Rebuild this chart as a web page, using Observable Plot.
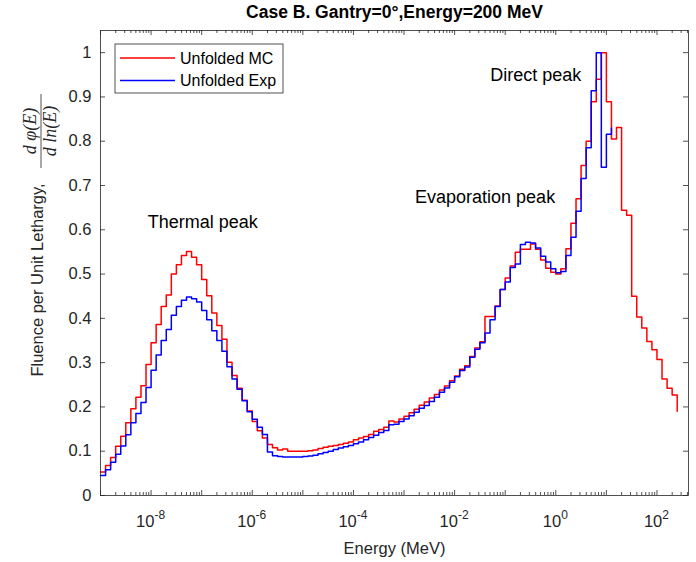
<!DOCTYPE html>
<html><head><meta charset="utf-8">
<script src="https://cdn.jsdelivr.net/npm/d3@7"></script>
<script src="https://cdn.jsdelivr.net/npm/@observablehq/plot@0.6"></script>
<style>body{margin:0;background:#fff;} svg{display:block;}</style>
</head><body><div id="chart"></div>
<script>
// ---- data ----
const binStartLog = -9;     // log10(E/MeV) of first bin lower edge
const binWidthLog = 0.1;    // bins of 0.1 decade
const seriesNames = ["Unfolded MC", "Unfolded Exp"];
const seriesColors = ["#ff0000", "#0000ff"];
const mcValues = [
  0.053,0.068,0.086,0.111,0.134,0.164,0.196,0.222,0.248,0.296,
  0.345,0.386,0.427,0.453,0.500,0.521,0.542,0.551,0.538,0.521,
  0.488,0.451,0.412,0.384,0.353,0.301,0.271,0.242,0.215,0.191,
  0.167,0.146,0.130,0.115,0.108,0.103,0.105,0.100,0.100,0.100,
  0.100,0.101,0.103,0.106,0.109,0.111,0.113,0.115,0.118,0.121,
  0.126,0.130,0.133,0.138,0.145,0.149,0.154,0.168,0.166,0.173,
  0.179,0.187,0.195,0.204,0.211,0.220,0.228,0.238,0.247,0.259,
  0.270,0.285,0.293,0.314,0.333,0.347,0.404,0.404,0.428,0.465,
  0.491,0.518,0.549,0.556,0.556,0.568,0.556,0.532,0.513,0.504,
  0.500,0.512,0.557,0.615,0.670,0.745,0.800,0.889,0.940,1.000,
  0.889,0.805,0.831,0.644,0.633,0.450,0.403,0.378,0.348,0.329,
  0.307,0.263,0.242,0.227
];
const mcLastValue = 0.19;
const expValues = [
  0.045,0.058,0.075,0.093,0.112,0.137,0.164,0.185,0.210,0.244,
  0.283,0.317,0.350,0.375,0.407,0.427,0.441,0.448,0.444,0.437,
  0.418,0.397,0.372,0.350,0.326,0.291,0.263,0.240,0.214,0.189,
  0.172,0.154,0.138,0.098,0.090,0.088,0.087,0.087,0.087,0.087,
  0.088,0.089,0.091,0.094,0.097,0.100,0.104,0.107,0.110,0.113,
  0.117,0.121,0.126,0.131,0.136,0.142,0.147,0.160,0.161,0.167,
  0.173,0.180,0.188,0.197,0.203,0.212,0.222,0.233,0.243,0.256,
  0.268,0.282,0.290,0.312,0.330,0.345,0.367,0.397,0.427,0.465,
  0.482,0.515,0.523,0.567,0.572,0.570,0.559,0.540,0.527,0.512,
  0.503,0.506,0.542,0.583,0.642,0.716,0.785,0.914,1.000,0.741,
  0.816
];
const expLastValue = 0.83;
const yTicks = [0,0.1,0.2,0.3,0.4,0.5,0.6,0.7,0.8,0.9,1];
const xMajorDecades = [-9,-8,-7,-6,-5,-4,-3,-2,-1,0,1,2];
const xLabelDecades = [-8,-6,-4,-2,0,2];
const minorMultipliers = [2,3,4,5,6,7,8,9];
const annotations = [
  {label: "Thermal peak", E: 1.05e-7, v: 0.616},
  {label: "Evaporation peak", E: 0.040, v: 0.673},
  {label: "Direct peak", E: 0.40, v: 0.948}
];
const xDomain = [1e-9, 420];
const yDomain = [0, 1.05];

// ---- build tables ----
function stairs(values, last, name) {
  const pts = values.map((v, i) => ({E: Math.pow(10, binStartLog + i * binWidthLog), v, name}));
  pts.push({E: Math.pow(10, binStartLog + values.length * binWidthLog), v: last, name});
  return pts;
}
const mcData = stairs(mcValues, mcLastValue, seriesNames[0]);
const expData = stairs(expValues, expLastValue, seriesNames[1]);
const majorX = xMajorDecades.map(d => Math.pow(10, d));
const minorX = [];
xMajorDecades.forEach(d => minorMultipliers.forEach(m => {
  const v = m * Math.pow(10, d);
  if (v <= xDomain[1]) minorX.push(v);
}));

const W = 696, H = 562, mL = 100, mR = 8, mT = 30, mB = 67;
const innerW = W - mL - mR, innerH = H - mT - mB;
const axisColor = "#262626";
const font = "'Liberation Sans', Arial, Helvetica, sans-serif";

const plot = Plot.plot({
  width: W, height: H,
  marginLeft: mL, marginRight: mR, marginTop: mT, marginBottom: mB,
  x: {type: "log", domain: xDomain, axis: null},
  y: {domain: yDomain, axis: null},
  style: {fontFamily: font, background: "#fff", overflow: "visible"},
  marks: [
    Plot.line(mcData, {x: "E", y: "v", curve: "step-after", stroke: seriesColors[0], strokeWidth: 1.5}),
    Plot.line(expData, {x: "E", y: "v", curve: "step-after", stroke: seriesColors[1], strokeWidth: 1.5}),
    Plot.tickX(majorX, {x: d => d, insetTop: innerH - 5, stroke: axisColor, strokeWidth: 0.8}),
    Plot.tickX(majorX, {x: d => d, insetBottom: innerH - 5, stroke: axisColor, strokeWidth: 0.8}),
    Plot.tickX(minorX, {x: d => d, insetTop: innerH - 3, stroke: axisColor, strokeWidth: 0.8}),
    Plot.tickX(minorX, {x: d => d, insetBottom: innerH - 3, stroke: axisColor, strokeWidth: 0.8}),
    Plot.tickY(yTicks, {y: d => d, insetRight: innerW - 5, stroke: axisColor, strokeWidth: 0.8}),
    Plot.tickY(yTicks, {y: d => d, insetLeft: innerW - 5, stroke: axisColor, strokeWidth: 0.8}),
    Plot.frame({stroke: axisColor, strokeWidth: 0.8}),
    Plot.text(yTicks, {y: d => d, frameAnchor: "left", dx: -9, textAnchor: "end",
      text: d => String(+d.toFixed(1)), fontSize: 16.5, fill: axisColor}),
    Plot.text(annotations, {x: "E", y: "v", text: "label", fontSize: 18, fill: "#000"}),
    Plot.text(["Energy (MeV)"], {frameAnchor: "bottom", dy: 53, lineAnchor: "middle", text: d => d, fontSize: 16.5, fill: axisColor}),
    Plot.text(["Case B. Gantry=0°,Energy=200 MeV"], {frameAnchor: "top", dy: -18, lineAnchor: "middle", text: d => d,
      fontSize: 17.5, fontWeight: "bold", fill: "#000"})
  ]
});

const svg = d3.select(plot);
const xs = plot.scale("x");

// x tick labels with superscript exponents
const xl = svg.append("g").attr("font-family", font).attr("fill", axisColor);
xLabelDecades.forEach(d => {
  const t = xl.append("text")
    .attr("x", xs.apply(Math.pow(10, d)))
    .attr("y", 527)
    .attr("text-anchor", "middle")
    .attr("font-size", 16.5);
  t.append("tspan").text("10");
  t.append("tspan").attr("dy", -8).attr("font-size", 12).text(String(d));
});

// y axis label with fraction
const yl = svg.append("g").attr("transform", "rotate(-90)").attr("fill", axisColor);
yl.append("text").attr("x", -280).attr("y", 43).attr("text-anchor", "middle")
  .attr("font-family", font).attr("font-size", 16.5)
  .text("Fluence per Unit Lethargy,");
const math = "'Liberation Serif', 'DejaVu Serif', serif";
yl.append("text").attr("x", -131).attr("y", 36).attr("text-anchor", "middle")
  .attr("font-family", math).attr("font-style", "italic").attr("font-size", 18)
  .text("d \u03c6(E)");
yl.append("text").attr("x", -131).attr("y", 56).attr("text-anchor", "middle")
  .attr("font-family", math).attr("font-style", "italic").attr("font-size", 18)
  .text("d ln(E)");
yl.append("line").attr("x1", -168).attr("x2", -94).attr("y1", 41).attr("y2", 41)
  .attr("stroke", axisColor).attr("stroke-width", 0.8);

// legend
const lg = svg.append("g").attr("font-family", font);
lg.append("rect").attr("x", 115).attr("y", 44).attr("width", 168).attr("height", 49)
  .attr("fill", "#fff").attr("stroke", axisColor).attr("stroke-width", 0.8);
seriesNames.forEach((name, i) => {
  const cy = 58 + i * 22.5;
  lg.append("line").attr("x1", 120).attr("x2", 175).attr("y1", cy).attr("y2", cy)
    .attr("stroke", seriesColors[i]).attr("stroke-width", 1.5);
  lg.append("text").attr("x", 180).attr("y", cy).attr("dy", "0.36em")
    .attr("text-anchor", "start")
    .attr("font-size", 16).attr("fill", "#000").text(name);
});

document.getElementById("chart").appendChild(plot);
</script>
</body></html>
